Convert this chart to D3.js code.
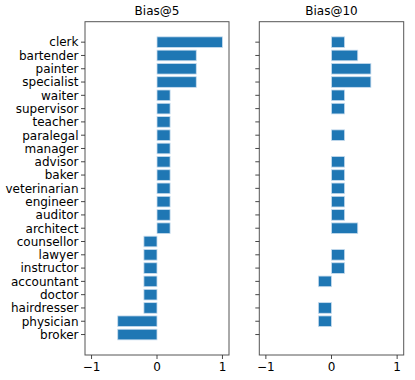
<!DOCTYPE html>
<html><head><meta charset="utf-8">
<script src="https://cdn.jsdelivr.net/npm/d3@7"></script>
<style>body{margin:0;background:#fff}svg{display:block}</style>
</head><body>
<script>
const categories = ["clerk","bartender","painter","specialist","waiter","supervisor","teacher","paralegal","manager","advisor","baker","veterinarian","engineer","auditor","architect","counsellor","lawyer","instructor","accountant","doctor","hairdresser","physician","broker"];
const bias5 = [1,0.6,0.6,0.6,0.2,0.2,0.2,0.2,0.2,0.2,0.2,0.2,0.2,0.2,0.2,-0.2,-0.2,-0.2,-0.2,-0.2,-0.2,-0.6,-0.6];
const bias10 = [0.2,0.4,0.6,0.6,0.2,0.2,0,0.2,0,0.2,0.2,0.2,0.2,0.2,0.4,0,0.2,0.2,-0.2,0,-0.2,-0.2,0];
const titles = ["Bias@5","Bias@10"];
const xTicks = [-1,0,1];

(function(){
const W=415,H=380;
const svg=d3.select("body").append("svg").attr("width",W).attr("height",H);
const font="DejaVu Sans, sans-serif";
const fs=12;
const panels=[{x0:85,x1:229,vals:bias5,labels:true},{x0:259.3,x1:403.7,vals:bias10,labels:false}];
const yTop=21.7,yBot=355;
const n=categories.length;
const y=d3.scaleLinear().domain([-1.54,n-1+1.54]).range([yTop,yBot]);
panels.forEach((p,i)=>{
  const g=svg.append("g");
  const x=d3.scaleLinear().domain([-1.1,1.1]).range([p.x0,p.x1]);
  const bh=(y(0.4)-y(-0.4));
  g.selectAll("rect.bar").data(p.vals).join("rect")
    .attr("x",d=>x(Math.min(0,d))).attr("width",d=>Math.abs(x(d)-x(0)))
    .attr("y",(d,j)=>y(j)-bh/2).attr("height",bh)
    .attr("fill","#1f77b4").attr("stroke","#c8dcee").attr("stroke-width",0.8);
  g.append("rect").attr("x",p.x0).attr("y",yTop).attr("width",p.x1-p.x0).attr("height",yBot-yTop)
    .attr("fill","none").attr("stroke","#555").attr("stroke-width",1);
  categories.forEach((c,j)=>{
    g.append("line").attr("x1",p.x0-4).attr("x2",p.x0).attr("y1",y(j)).attr("y2",y(j)).attr("stroke","#333").attr("stroke-width",0.9);
    if(p.labels) g.append("text").attr("x",p.x0-6.5).attr("y",y(j)).attr("dy","0.36em").attr("text-anchor","end")
      .attr("font-family",font).attr("font-size",fs).attr("fill","#000").text(c);
  });
  xTicks.forEach(t=>{
    g.append("line").attr("x1",x(t)).attr("x2",x(t)).attr("y1",yBot).attr("y2",yBot+4).attr("stroke","#333").attr("stroke-width",0.9);
    g.append("text").attr("x",x(t)).attr("y",yBot+16).attr("text-anchor","middle")
      .attr("font-family",font).attr("font-size",fs).attr("fill","#000").text(t<0?"\u2212"+Math.abs(t):String(t));
  });
  g.append("text").attr("x",(p.x0+p.x1)/2).attr("y",yTop-6.5).attr("text-anchor","middle")
    .attr("font-family",font).attr("font-size",fs).attr("fill","#000").text(titles[i]);
});
})();
</script>
</body></html>
